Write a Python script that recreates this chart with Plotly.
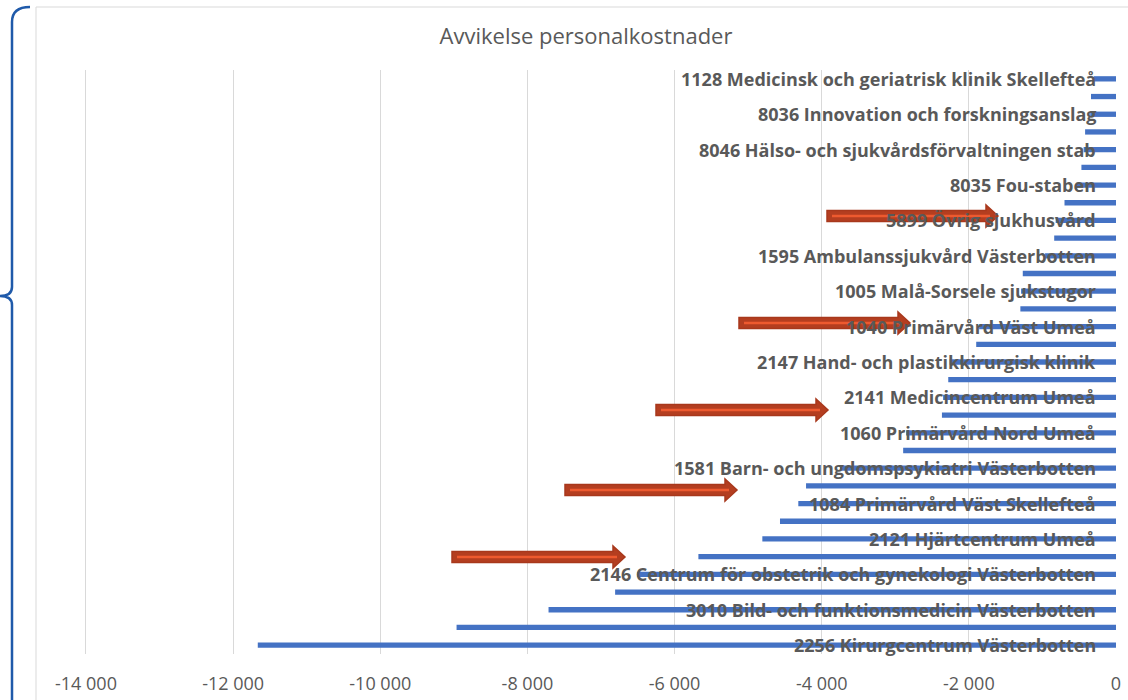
import plotly.graph_objects as go

# ---------------- data ----------------
labels = [
    "1128 Medicinsk och geriatrisk klinik Skellefteå", "",
    "8036 Innovation och forskningsanslag", "",
    "8046 Hälso- och sjukvårdsförvaltningen stab", "",
    "8035 Fou-staben", "",
    "5899 Övrig sjukhusvård", "",
    "1595 Ambulanssjukvård Västerbotten", "",
    "1005 Malå-Sorsele sjukstugor", "",
    "1040 Primärvård Väst Umeå", "",
    "2147 Hand- och plastikkirurgisk klinik", "",
    "2141 Medicincentrum Umeå", "",
    "1060 Primärvård Nord Umeå", "",
    "1581 Barn- och ungdomspsykiatri Västerbotten", "",
    "1084 Primärvård Väst Skellefteå", "",
    "2121 Hjärtcentrum Umeå", "",
    "2146 Centrum för obstetrik och gynekologi Västerbotten", "",
    "3010 Bild- och funktionsmedicin Västerbotten", "",
    "2256 Kirurgcentrum Västerbotten",
]
values = [
    -300, -340, -350, -420, -440, -470, -535, -700, -820, -840,
    -964, -1267, -1290, -1300, -1860, -1900, -2260, -2280, -2350, -2366,
    -2852, -2893, -3750, -4213, -4318, -4567, -4807, -5676, -6505, -6808,
    -7713, -8963, -11665,
]
x_tickvals = [-14000, -12000, -10000, -8000, -6000, -4000, -2000, 0]
x_ticktext = ["-14 000", "-12 000", "-10 000", "-8 000", "-6 000", "-4 000", "-2 000", "0"]
title = "Avvikelse personalkostnader"

# ---------------- layout constants ----------------
W, H = 1128, 700
ML, MR, MT, MB = 84, 12, 70, 46
PW, PH = W - ML - MR, H - MT - MB
FONT = "Open Sans"
GRAY = "#595959"


def px(x):
    return (x - ML) / PW


def py(y):
    return 1 - (y - MT) / PH


pos = list(range(len(values)))

fig = go.Figure()
fig.add_trace(go.Bar(
    x=values, y=pos, orientation="h",
    marker=dict(color="#4472C4", line=dict(width=0)),
    hoverinfo="x",
))

fig.update_layout(
    width=W, height=H,
    margin=dict(l=ML, r=MR, t=MT, b=MB, autoexpand=False),
    paper_bgcolor="white", plot_bgcolor="white",
    bargap=0.7,
    showlegend=False,
    font=dict(family=FONT, color=GRAY),
    title=dict(text=title, x=586 / W, xref="container", xanchor="center",
               y=1 - 36 / H, yref="container", yanchor="middle",
               font=dict(family=FONT, size=22, color=GRAY)),
    xaxis=dict(range=[-14027, 0], tickvals=x_tickvals, ticktext=x_ticktext,
               showgrid=True, gridcolor="#D9D9D9", gridwidth=1,
               zeroline=False, showline=False, ticks="", automargin=False,
               tickfont=dict(family=FONT, size=18, color=GRAY),
               ticklabelstandoff=17, fixedrange=True),
    yaxis=dict(range=[len(values) - 0.5, -0.5], showticklabels=False,
               showgrid=False, zeroline=False, showline=False, ticks="",
               automargin=False, fixedrange=True),
)

# category labels, drawn next to the value axis (x = 0) like the original
for p, lab in zip(pos, labels):
    if lab:
        fig.add_annotation(x=0, y=p, xref="x", yref="y", text=lab, showarrow=False,
                           xanchor="right", yanchor="middle", xshift=-18,
                           font=dict(family=FONT, size=18, color=GRAY, weight="bold"))

# chart frame
fig.add_shape(type="rect", xref="paper", yref="paper",
              x0=px(36), x1=px(1140), y0=py(7), y1=py(712),
              line=dict(color="#D9D9D9", width=1), fillcolor="rgba(0,0,0,0)", layer="below")

# brace on the left
pts = f"M {px(30)},{py(7)} Q {px(12)},{py(7)} {px(12)},{py(22)} L {px(12)},{py(287)} " \
      f"Q {px(12)},{py(296)} {px(0)},{py(296)} Q {px(12)},{py(296)} {px(12)},{py(305)} " \
      f"L {px(12)},{py(712)}"
fig.add_shape(type="path", xref="paper", yref="paper", path=pts,
              line=dict(color="#1F5AAA", width=2.5))

# red arrows (tail x, head tip x, y in pixels)
arrows = [(827, 998, 216), (739, 910, 323), (656, 828, 410), (565, 737, 490), (452, 625, 557)]
for x0, x1, y in arrows:
    xh = x1 - 12
    body = (f"M {px(x0)},{py(y-5.5)} L {px(xh)},{py(y-5.5)} L {px(xh)},{py(y-11)} "
            f"L {px(x1)},{py(y)} L {px(xh)},{py(y+11)} L {px(xh)},{py(y+5.5)} "
            f"L {px(x0)},{py(y+5.5)} Z")
    fig.add_shape(type="path", xref="paper", yref="paper", path=body,
                  fillcolor="#B43E20", line=dict(color="#A8381C", width=1.5))
    fig.add_shape(type="line", xref="paper", yref="paper",
                  x0=px(x0 + 5), x1=px(x1 - 8), y0=py(y), y1=py(y),
                  line=dict(color="#EE5A2F", width=2.5))

fig.write_html("out.html")
